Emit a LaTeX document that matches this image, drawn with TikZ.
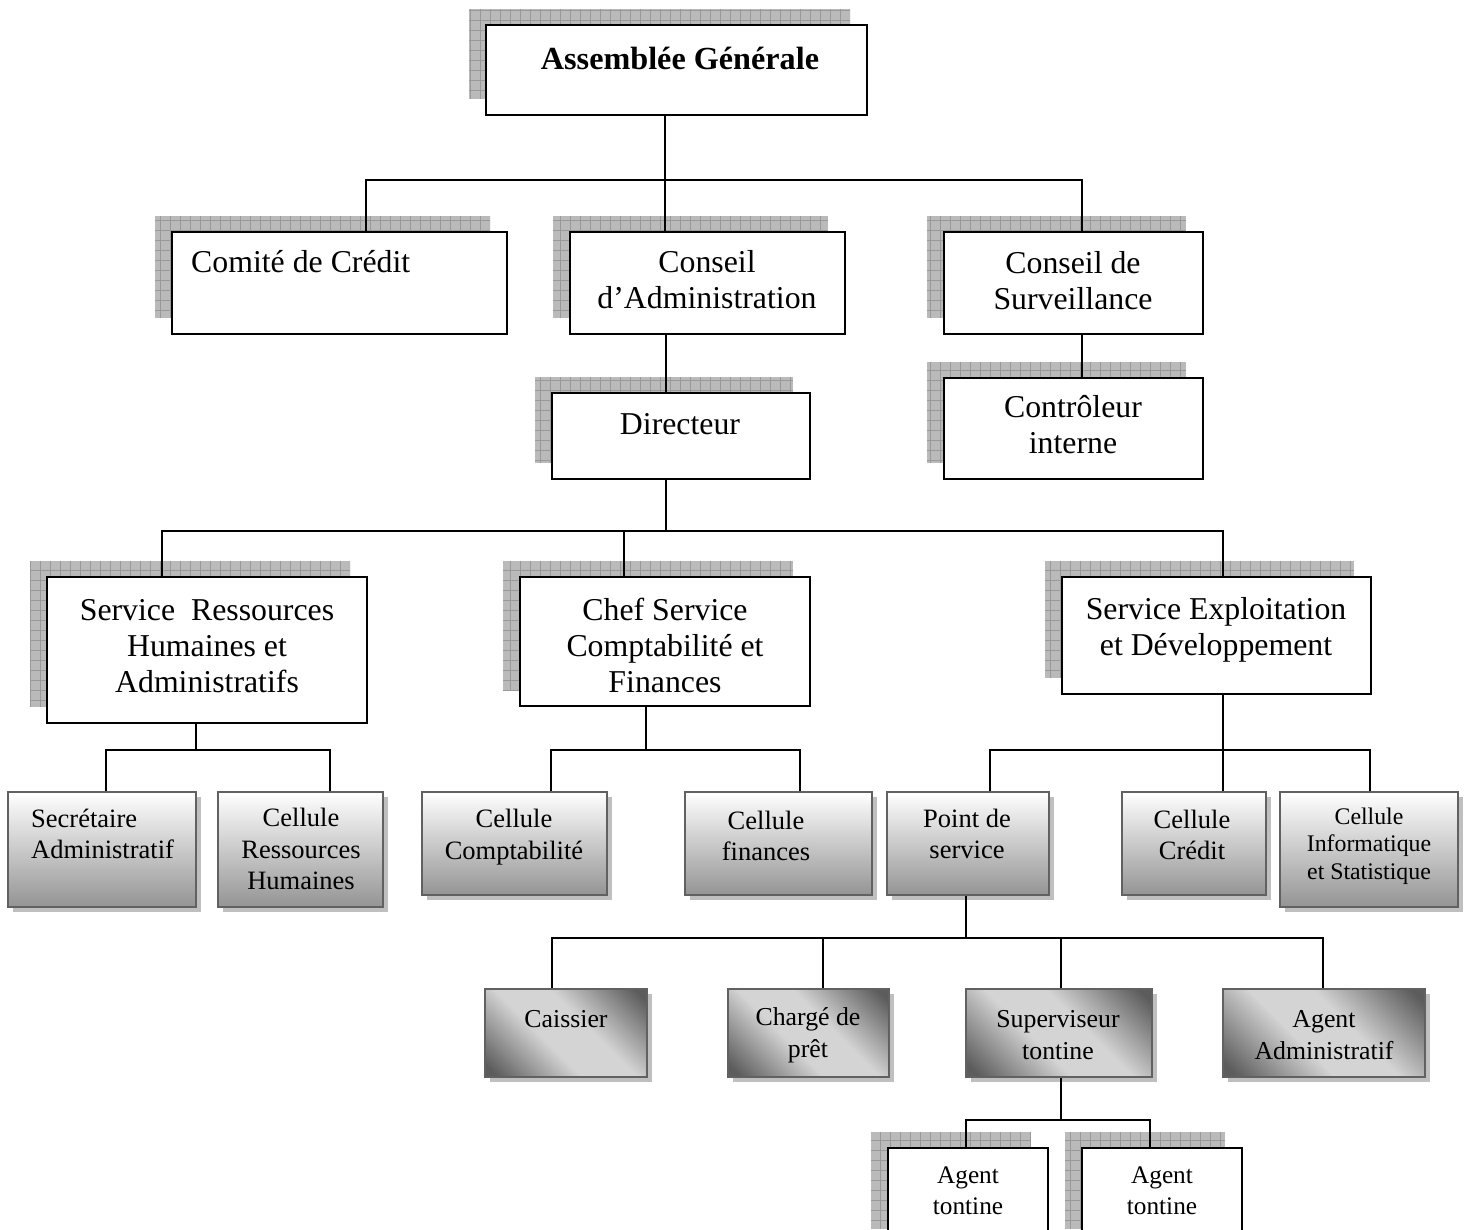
\documentclass[tikz,border=0pt]{standalone}
\usepackage{fontspec}
\setmainfont{Liberation Serif}
\pgfdeclarehorizontalshading{diagsh}{100bp}{color(0bp)=(black!64); color(18bp)=(black!64); color(42bp)=(black!17); color(58bp)=(black!17); color(82bp)=(black!64); color(100bp)=(black!64)}
\tikzset{
  wbox/.style={draw=black, fill=white, line width=1.6pt, inner sep=0pt, rectangle},
  gbox/.style={draw=black!62, line width=2pt, inner sep=0pt, rectangle, top color=white, bottom color=black!42},
  dbox/.style={draw=black!62, line width=2pt, inner sep=0pt, rectangle, shade, shading=diagsh, shading angle=45},
  conn/.style={line width=1.6pt, black},
  tbig/.style={align=center, inner sep=0pt, font=\fontsize{31.8}{36}\selectfont},
  tmid/.style={align=center, inner sep=0pt, font=\fontsize{26.5}{31.5}\selectfont},
  tsmall/.style={align=center, inner sep=0pt, font=\fontsize{23.8}{27.5}\selectfont},
  tlow/.style={align=center, inner sep=0pt, font=\fontsize{25.8}{32}\selectfont},
  tag/.style={align=center, inner sep=0pt, font=\fontsize{25.3}{31}\selectfont},
}
\newcommand\WhiteBox[5]{%
  \begin{scope}
    \clip (#2-17,#3-16) rectangle (#4-17,#5-16);
    \fill[black!27] (#2-17,#3-16) rectangle (#4-17,#5-16);
    \draw[black!40, line width=0.4pt, step=10pt] (#2-17,#3-16) grid (#4-17,#5-16);
  \end{scope}
  \node[wbox, minimum width={#4-#2}, minimum height={#5-#3}] (#1) at ({(#2+#4)/2},{(#3+#5)/2}) {};
}
\newcommand\GradBox[6]{%
  \fill[black!25] (#3+5,#4+5) rectangle (#5+5,#6+5);
  \node[#1, minimum width={#5-#3}, minimum height={#6-#4}] (#2) at ({(#3+#5)/2},{(#4+#6)/2}) {};
}
\begin{document}
\begin{tikzpicture}[x=1pt,y=-1pt]
\useasboundingbox (0,0) rectangle (1465,1230);
\clip (0,0) rectangle (1465,1230);
\fill[white] (0,0) rectangle (1465,1230);

% ---------- junction points ----------
\coordinate (j1) at (665,180);
\coordinate (j2) at (666,531);
\coordinate (j3) at (196,750);
\coordinate (j4) at (646,750);
\coordinate (j5) at (1223,750);
\coordinate (j6) at (966,938);
\coordinate (j7) at (1061,1120);

% ---------- white boxes ----------
\WhiteBox{ag}{486}{25}{867}{115}
\WhiteBox{comite}{172}{232}{507}{334}
\WhiteBox{ca}{570}{232}{845}{334}
\WhiteBox{cs}{944}{232}{1203}{334}
\WhiteBox{dir}{552}{393}{810}{479}
\WhiteBox{ci}{944}{378}{1203}{479}
\WhiteBox{rh}{47}{577}{367}{723}
\WhiteBox{chef}{520}{577}{810}{706}
\WhiteBox{se}{1062}{577}{1371}{694}
\WhiteBox{at1}{888}{1148}{1048}{1245}
\WhiteBox{at2}{1082}{1148}{1242}{1245}

% ---------- gradient boxes ----------
\GradBox{gbox}{sec}{8}{792}{196}{907}
\GradBox{gbox}{crh}{218}{792}{383}{907}
\GradBox{gbox}{cc}{422}{792}{607}{895}
\GradBox{gbox}{cf}{685}{792}{872}{895}
\GradBox{gbox}{ps}{887}{792}{1049}{895}
\GradBox{gbox}{ccr}{1122}{792}{1266}{895}
\GradBox{gbox}{cis}{1280}{792}{1458}{907}
\GradBox{dbox}{cais}{485}{989}{647}{1077}
\GradBox{dbox}{charge}{728}{989}{889}{1077}
\GradBox{dbox}{sup}{966}{989}{1152}{1077}
\GradBox{dbox}{aadm}{1223}{989}{1425}{1077}

% ---------- connector lines ----------
\draw[conn] (ag.south -| j1) -- (j1);
\draw[conn] (j1) -| (comite.north -| 366,0);
\draw[conn] (j1) -- (ca.north -| j1);
\draw[conn] (j1) -| (cs.north -| 1082,0);
\draw[conn] (ca.south -| 666,0) -- (dir.north -| 666,0);
\draw[conn] (cs.south -| 1082,0) -- (ci.north -| 1082,0);
\draw[conn] (dir.south -| j2) -- (j2);
\draw[conn] (j2) -| (rh.north -| 162,0);
\draw[conn] (j2) -| (chef.north -| 624,0);
\draw[conn] (j2) -| (se.north -| 1223,0);
\draw[conn] (rh.south -| j3) -- (j3);
\draw[conn] (j3) -| (sec.north -| 106,0);
\draw[conn] (j3) -| (crh.north -| 330,0);
\draw[conn] (chef.south -| j4) -- (j4);
\draw[conn] (j4) -| (cc.north -| 551,0);
\draw[conn] (j4) -| (cf.north -| 800,0);
\draw[conn] (se.south -| j5) -- (j5);
\draw[conn] (j5) -| (ps.north -| 990,0);
\draw[conn] (j5) -- (ccr.north -| j5);
\draw[conn] (j5) -| (cis.north -| 1370,0);
\draw[conn] (ps.south -| j6) -- (j6);
\draw[conn] (j6) -| (cais.north -| 552,0);
\draw[conn] (j6) -| (charge.north -| 823,0);
\draw[conn] (j6) -| (sup.north -| 1061,0);
\draw[conn] (j6) -| (aadm.north -| 1323,0);
\draw[conn] (sup.south -| j7) -- (j7);
\draw[conn] (j7) -| (at1.north -| 966,0);
\draw[conn] (j7) -| (at2.north -| 1150,0);

% ---------- texts ----------
\node[inner sep=0pt, font=\fontsize{32.2}{36}\selectfont\bfseries] (ag-t) at (680,58) {Assemblée Générale};
\node[tbig, anchor=west] (comite-t) at (191,262) {Comité de Crédit};
\node[tbig] (ca-t) at (707,280) {Conseil\\d’Administration};
\node[tbig] (cs-t) at (1073,281) {Conseil de\\Surveillance};
\node[tbig] (dir-t) at (680,424) {Directeur};
\node[tbig] (ci-t) at (1073,425) {Contrôleur\\interne};
\node[tbig] (rh-t) at (207,646) {Service~~Ressources\\Humaines et\\Administratifs};
\node[tbig] (chef-t) at (665,645) {Chef Service\\Comptabilité et\\Finances};
\node[tbig] (se-t) at (1216,630) {Service Exploitation\\et Développement};
\node[tag] (at1-t) at (968,1191) {Agent\\tontine};
\node[tag] (at2-t) at (1162,1191) {Agent\\tontine};

\node[tmid, align=left, anchor=west] (sec-t) at (31,834) {Secrétaire\\Administratif};
\node[tmid] (crh-t) at (301,849) {Cellule\\Ressources\\Humaines};
\node[tmid] (cc-t) at (514,837) {Cellule\\Comptabilité};
\node[tmid] (cf-t) at (766,836) {Cellule\\finances};
\node[tmid] (ps-t) at (967,834) {Point de\\service};
\node[tmid] (ccr-t) at (1192,835) {Cellule\\Crédit};
\node[tsmall] (cis-t) at (1369,846) {Cellule\\Informatique\\et Statistique};

\node[tlow] (cais-t) at (566,1019) {Caissier};
\node[tlow] (charge-t) at (808,1035) {Chargé de\\prêt};
\node[tlow] (sup-t) at (1058,1035) {Superviseur\\tontine};
\node[tlow] (aadm-t) at (1324,1035) {Agent\\Administratif};
\end{tikzpicture}
\end{document}
